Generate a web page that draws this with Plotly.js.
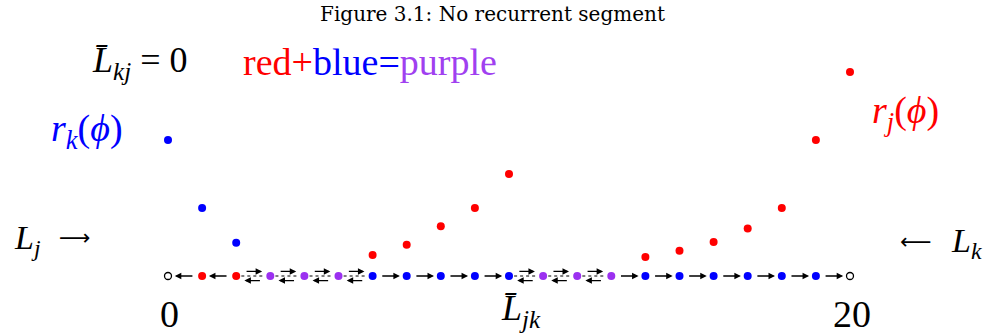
<!DOCTYPE html>
<html><head><meta charset="utf-8">
<script src="https://cdn.plot.ly/plotly-3.0.1.min.js"></script>
<style>html,body{margin:0;padding:0;background:#fff}</style>
</head><body><div id="chart" style="width:985px;height:334px"></div>
<script>
// Baseline states at positions 0..20
const positions = [0,1,2,3,4,5,6,7,8,9,10,11,12,13,14,15,16,17,18,19,20];
const stateColors = ['open','red','red','purple','purple','purple','blue','blue','blue','blue','blue',
  'purple','purple','purple','blue','blue','blue','blue','blue','blue','open'];
// Link direction between position i and i+1: L = left arrow, R = right arrow, B = both (dotted)
const links = ['L','L','B','B','B','B','R','R','R','R','B','B','B','R','R','R','R','R','R','R'];
// r_k(phi) (blue) and r_j(phi) (red) values
const rkX = [0,1,2];
const rkY = [2.0,1.0,0.49];
const rjX = [6,7,8,9,10,14,15,16,17,18,19,20];
const rjY = [0.31,0.46,0.73,1.0,1.5,0.28,0.37,0.5,0.7,1.0,2.0,3.0];

const COL = {red:'#ff0000', blue:'#0000ff', purple:'#9b30f0'};

const traces = [];
// dotted lines under two-way links
const dx=[], dy=[];
links.forEach((d,i)=>{ if(d==='B'){ dx.push(positions[i]+0.15, positions[i+1]-0.15, null); dy.push(0,0,null);} });
traces.push({x:dx,y:dy,mode:'lines',line:{color:'#000',width:1.2,dash:'dot'},hoverinfo:'skip'});
// baseline filled points
['red','blue','purple'].forEach(c=>{
  const xs=[],ys=[];
  stateColors.forEach((s,i)=>{ if(s===c){xs.push(positions[i]);ys.push(0);} });
  traces.push({x:xs,y:ys,mode:'markers',marker:{color:COL[c],size:8},hoverinfo:'skip'});
});
// open end points
{
  const xs=[],ys=[];
  stateColors.forEach((s,i)=>{ if(s==='open'){xs.push(positions[i]);ys.push(0);} });
  traces.push({x:xs,y:ys,mode:'markers',marker:{color:'#fff',size:7,line:{color:'#000',width:1.3}},hoverinfo:'skip'});
}
traces.push({x:rkX,y:rkY,mode:'markers',marker:{color:COL.blue,size:8},hoverinfo:'skip'});
traces.push({x:rjX,y:rjY,mode:'markers',marker:{color:COL.red,size:8},hoverinfo:'skip'});

const ann = [];
function arrow(x0,x1,y){
  ann.push({x:x1,y:y,ax:x0,ay:y,xref:'x',yref:'y',axref:'x',ayref:'y',text:'',showarrow:true,
    arrowhead:2,arrowsize:1,arrowwidth:1.3,arrowcolor:'#000',standoff:0,startstandoff:0});
}
const off = 0.068;
links.forEach((d,i)=>{
  const a=positions[i], b=positions[i+1];
  if(d==='R') arrow(a+0.24,b-0.2,0);
  else if(d==='L') arrow(b-0.24,a+0.2,0);
  else { arrow(a+0.26,b-0.24,off); arrow(b-0.26,a+0.24,-off); }
});

const W=985,H=334;
function txt(text,px,py,size,color,xanchor,family){
  ann.push({text:text,x:px/W,y:1-py/H,xref:'paper',yref:'paper',showarrow:false,
    xanchor:xanchor||'center',yanchor:'middle',
    font:{family:family||'Liberation Serif, serif',size:size,color:color||'#000'}});
}
txt('<i>L̄</i><sub><i>kj</i></sub> = 0',140,62,36);
txt('<span style="color:#ff0000">red+</span><span style="color:#0000ff">blue=</span><span style="color:#a040f0">purple</span>',370,62,38);
txt('<i>r</i><sub><i>k</i></sub>(<i>ϕ</i>)',87,131,38,COL.blue);
txt('<i>r</i><sub><i>j</i></sub>(<i>ϕ</i>)',905,113,38,COL.red);
txt('<i>L</i><sub><i>j</i></sub>',27,240,34);
txt('⟶',75,238,22,'#000','center','DejaVu Sans, sans-serif');
txt('⟵',916,241,22,'#000','center','DejaVu Sans, sans-serif');
txt('<i>L</i><sub><i>k</i></sub>',966,243,34);
txt('0',169,314,38);
txt('20',852,314,38);
txt('<i>L̄</i><sub><i>jk</i></sub>',521,310,36);

const pxPerX = 34.1, x0px = 168;
const pxPerY = 68, y0px = 276;
const layout = {
  width:W,height:H,margin:{l:0,r:0,t:0,b:0},
  paper_bgcolor:'#fff',plot_bgcolor:'#fff',showlegend:false,
  title:{text:'Figure 3.1: No recurrent segment',x:0.5,xanchor:'center',y:1-14/H,yanchor:'middle',
    font:{family:'DejaVu Serif, serif',size:20,color:'#000'}},
  xaxis:{range:[-x0px/pxPerX,(W-x0px)/pxPerX],visible:false,fixedrange:true},
  yaxis:{range:[-(H-y0px)/pxPerY,y0px/pxPerY],visible:false,fixedrange:true},
  annotations:ann
};
Plotly.newPlot('chart',traces,layout,{staticPlot:true,displayModeBar:false});
</script></body></html>
